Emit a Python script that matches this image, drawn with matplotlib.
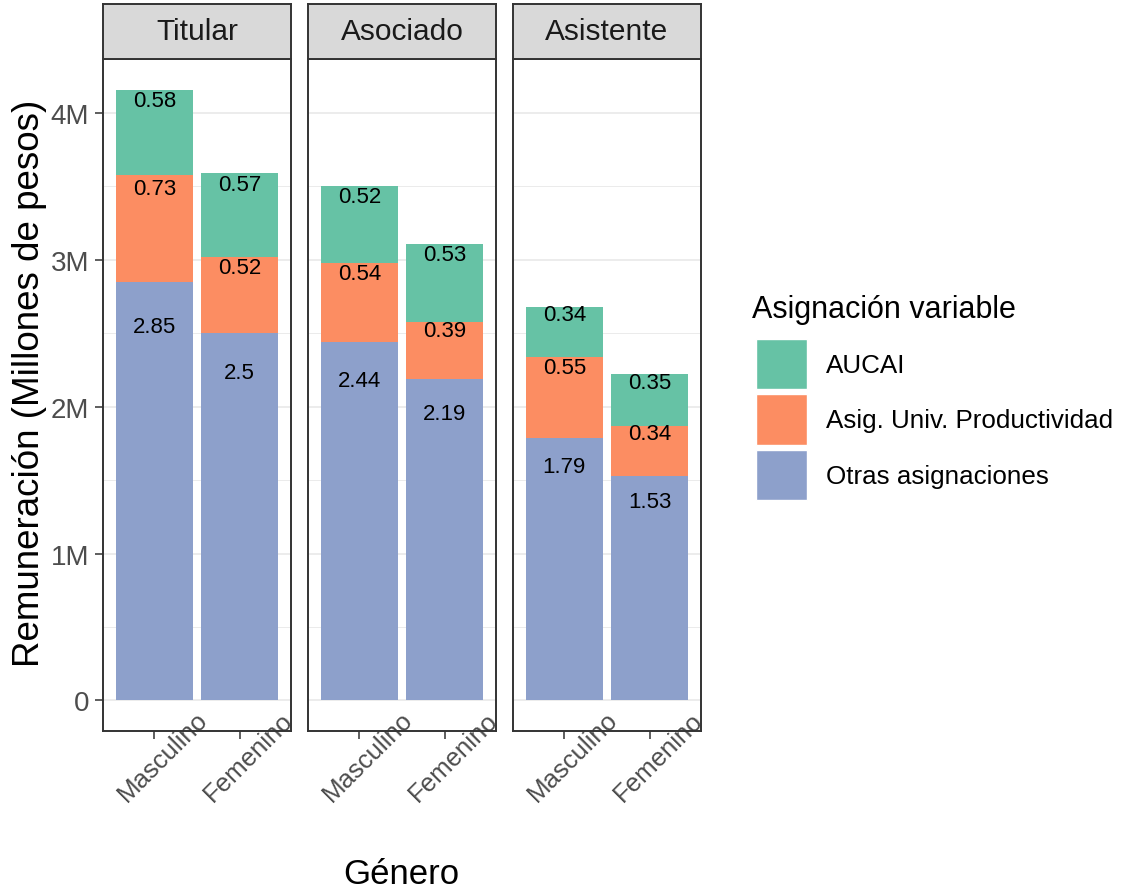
import numpy as np
import matplotlib
matplotlib.use('Agg')
import matplotlib.pyplot as plt
from matplotlib.patches import Patch

plt.rcParams['font.family'] = ['Liberation Sans', 'DejaVu Sans']

# data (millones de pesos)
categorias = ['Titular', 'Asociado', 'Asistente']
generos = ['Masculino', 'Femenino']
otras = [[2.85, 2.5], [2.44, 2.19], [1.79, 1.53]]
asig_univ = [[0.73, 0.52], [0.54, 0.39], [0.55, 0.34]]
aucai = [[0.58, 0.57], [0.52, 0.53], [0.34, 0.35]]
series_names = ['AUCAI', 'Asig. Univ. Productividad', 'Otras asignaciones']
yticks = [0, 1, 2, 3, 4]
ytick_labels = ['0', '1M', '2M', '3M', '4M']

col_aucai = '#66C2A5'
col_asig = '#FC8D62'
col_otras = '#8DA0CB'

W, H = 1122, 895
fig = plt.figure(figsize=(W/100, H/100), dpi=100)

totals = np.array(otras) + np.array(asig_univ) + np.array(aucai)
ymax = totals.max()
ylo, yhi = -0.05*ymax, ymax*1.05

panel_left = [103, 308, 513]
pw = 188
ptop, pbot = 60, 732
strip_top = 5

for i, cat in enumerate(categorias):
    ax = fig.add_axes([panel_left[i]/W, 1-pbot/H, pw/W, (pbot-ptop)/H])
    x = np.arange(1, len(generos)+1)
    o = np.array(otras[i]); a = np.array(asig_univ[i]); u = np.array(aucai[i])
    ax.bar(x, o, width=0.9, color=col_otras, zorder=2)
    ax.bar(x, a, width=0.9, bottom=o, color=col_asig, zorder=2)
    ax.bar(x, u, width=0.9, bottom=o+a, color=col_aucai, zorder=2)
    # labels like position_stack(vjust=0.9)
    for vals, bots in [(o, np.zeros(2)), (a, o), (u, o+a)]:
        for xi, v, b in zip(x, vals, bots):
            ax.annotate('%g' % v, (xi, b+0.9*v), xytext=(0, -2), textcoords='offset points',
                        ha='center', va='center', fontsize=16, color='black', zorder=3)
    ax.set_xlim(0.4, 2.6)
    ax.set_ylim(ylo, yhi)
    ax.set_yticks(yticks)
    ax.set_yticks(np.arange(0.5, 4.5, 1), minor=True)
    ax.grid(axis='y', which='major', color='#EBEBEB', lw=1.3, zorder=0)
    ax.grid(axis='y', which='minor', color='#EBEBEB', lw=0.7, zorder=0)
    ax.tick_params(axis='y', which='minor', length=0)
    if i == 0:
        ax.set_yticklabels(ytick_labels)
        ax.tick_params(axis='y', labelsize=20, labelcolor='#4D4D4D', color='#333333',
                       length=6, width=1.1, pad=4)
    else:
        ax.tick_params(axis='y', which='both', left=False, labelleft=False)
    ax.set_xticks(x)
    ax.set_xticklabels(generos, rotation=45, ha='center', va='top', rotation_mode='anchor')
    ax.tick_params(axis='x', labelsize=18.5, labelcolor='#4D4D4D', color='#333333',
                   length=6, width=1.1, pad=6)
    for s in ax.spines.values():
        s.set_color('#333333'); s.set_linewidth(1.4)
    # strip
    sax = fig.add_axes([panel_left[i]/W, 1-ptop/H, pw/W, (ptop-strip_top)/H])
    sax.set_facecolor('#D9D9D9')
    sax.set_xticks([]); sax.set_yticks([])
    for s in sax.spines.values():
        s.set_color('#333333'); s.set_linewidth(1.4)
    sax.text(0.5, 0.5, cat, ha='center', va='center', fontsize=21.5, color='#1A1A1A',
             transform=sax.transAxes)

fig.text((103+700)/2/W, 1-875/H, 'Género', ha='center', va='center', fontsize=25)
fig.text(30/W, 1-(97+670)/2/H, 'Remuneración (Millones de pesos)', ha='center', va='center',
         rotation=90, fontsize=26.5)

# legend
fig.text(752/W, 1-310/H, 'Asignación variable', ha='left', va='center', fontsize=22)
handles = [Patch(facecolor=c, edgecolor='white') for c in [col_aucai, col_asig, col_otras]]
leg = fig.legend(handles, series_names, loc='upper left', bbox_to_anchor=(756/W, 1-340/H),
                 frameon=False, fontsize=18.7, borderpad=0,
                 handlelength=1.95, handleheight=2.6, labelspacing=0.2, handletextpad=0.75,
                 borderaxespad=0)

fig.savefig('out.png', dpi=100)
